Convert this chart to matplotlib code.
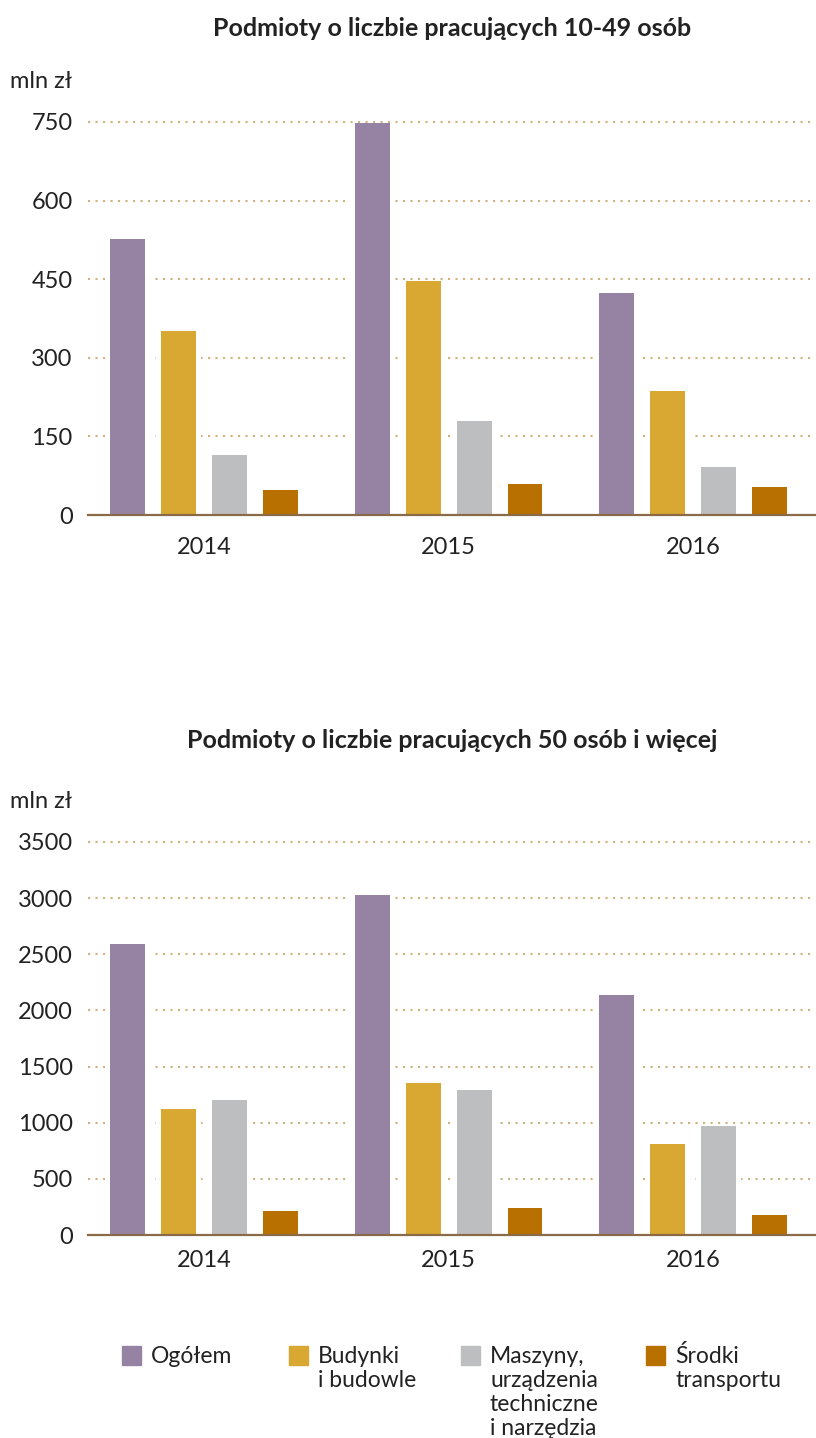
import matplotlib.pyplot as plt
from matplotlib.patches import Rectangle
import numpy as np

plt.rcParams['font.family'] = ['Lato', 'DejaVu Sans']

years = ['2014', '2015', '2016']
series_names = ['Ogółem', 'Budynki\ni budowle',
                'Maszyny,\nurządzenia\ntechniczne\ni narzędzia',
                'Środki\ntransportu']
colors = ['#9682A3', '#D8A833', '#BDBEC0', '#B87000']

# podmioty 10-49 osob, mln zl
ogolem_10_49 = [527, 749, 424]
budynki_10_49 = [351, 447, 237]
maszyny_10_49 = [114, 179, 92]
srodki_10_49 = [48, 59, 53]

# podmioty 50 osob i wiecej, mln zl
ogolem_50 = [2595, 3030, 2140]
budynki_50 = [1123, 1355, 811]
maszyny_50 = [1203, 1292, 971]
srodki_50 = [214, 240, 178]

ticks_top = [0, 150, 300, 450, 600, 750]
ticks_bottom = [0, 500, 1000, 1500, 2000, 2500, 3000, 3500]

W, H = 816, 1438
fig = plt.figure(figsize=(W / 100, H / 100), dpi=100)

GRID = '#D2B07C'
AXIS = '#8B6B47'
TXT = '#222222'
pitch = 0.2086
bw = 0.143


def draw_panel(ax, data, ticks, title, title_y, unit_y, xlab_pad):
    x = np.arange(len(years))
    for i, vals in enumerate(data):
        pos = x + (i - 1.5) * pitch
        # white halo so the dotted grid stops short of the bars
        ax.bar(pos, vals, width=bw + 0.04, color='white', zorder=2)
        ax.bar(pos, vals, width=bw, color=colors[i], zorder=3)
    ax.set_xlim(-0.476, 2.5)
    ax.set_ylim(0, ticks[-1])
    ax.set_yticks(ticks)
    ax.set_yticklabels([str(t) for t in ticks], fontsize=17, color=TXT)
    ax.set_xticks(x)
    ax.set_xticklabels(years, fontsize=17, color=TXT)
    ax.tick_params(axis='y', length=0, pad=11)
    ax.tick_params(axis='x', length=0, pad=xlab_pad)
    for t in ticks[1:]:
        ax.axhline(t, color=GRID, lw=1.5, linestyle=(0, (1, 2.6)),
                   zorder=1, clip_on=False)
    for s in ['top', 'right', 'left']:
        ax.spines[s].set_visible(False)
    ax.spines['bottom'].set_color(AXIS)
    ax.spines['bottom'].set_linewidth(1.6)
    ax.spines['bottom'].set_zorder(4)
    fig.text(452 / W, 1 - title_y / H, title, ha='center', va='center',
             fontsize=18, fontweight='bold', color=TXT)
    fig.text(10 / W, 1 - unit_y / H, 'mln zł', ha='left', va='center',
             fontsize=17, color=TXT)


ax1 = fig.add_axes([88 / W, 1 - 515 / H, 727 / W, 393 / H])
draw_panel(ax1, [ogolem_10_49, budynki_10_49, maszyny_10_49, srodki_10_49],
           ticks_top, 'Podmioty o liczbie pracujących 10-49 osób', 28, 81, 16)

ax2 = fig.add_axes([88 / W, 1 - 1235 / H, 727 / W, 393 / H])
draw_panel(ax2, [ogolem_50, budynki_50, maszyny_50, srodki_50],
           ticks_bottom, 'Podmioty o liczbie pracujących 50 osób i więcej',
           740, 802, 11)

# legend
leg_x = [122, 289, 461, 646]
for i, name in enumerate(series_names):
    fig.patches.append(Rectangle((leg_x[i] / W, 1 - 1365 / H), 19 / W, 19 / H,
                                 transform=fig.transFigure, color=colors[i]))
    for k, line in enumerate(name.split('\n')):
        fig.text((leg_x[i] + 29) / W, 1 - (1363 + 24 * k) / H, line,
                 ha='left', va='baseline', fontsize=16.5, color=TXT)

fig.savefig('out.png', dpi=100)
